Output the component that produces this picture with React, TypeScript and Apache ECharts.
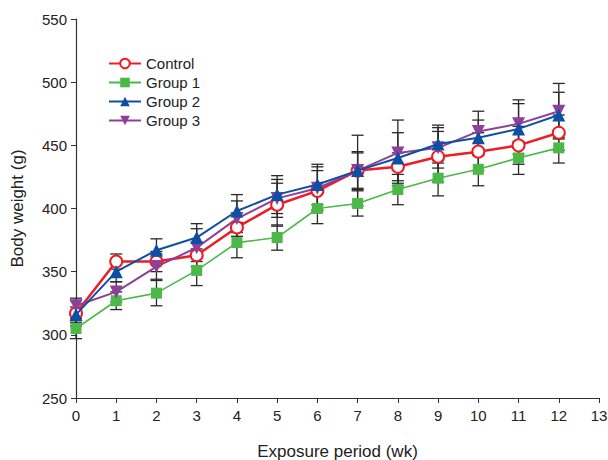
import React, { useEffect, useRef } from "react";
import * as echarts from "echarts";

const weeks = [0, 1, 2, 3, 4, 5, 6, 7, 8, 9, 10, 11, 12];
const seriesNames = ["Control", "Group 1", "Group 2", "Group 3"];
const control = [317, 358, 358, 363, 385, 403, 414, 430, 433, 441, 445, 450, 460];
const group1 = [305, 327, 333, 351, 373, 377, 400, 404, 415, 424, 431, 440, 448];
const group2 = [316, 350, 367, 377, 398, 411, 419, 430, 440, 451, 456, 463, 474];
const group3 = [323, 334, 354, 369, 392, 408, 416, 430, 444, 448, 461, 467, 477];
const controlSd = [10, 6, 8, 5, 4, 17, 16, 28, 11, 20, 15, 15, 14];
const group1Sd = [8, 7, 10, 12, 12, 10, 12, 10, 12, 14, 13, 13, 12];
const group2Sd = [6, 8, 9, 11, 13, 15, 16, 15, 20, 15, 14, 20, 18];
const group3Sd = [6, 8, 10, 15, 14, 15, 17, 14, 26, 16, 16, 19, 22];
const yTicks = [250, 300, 350, 400, 450, 500, 550];
const xMax = 13;

const FONT = "'Liberation Sans', Arial, sans-serif";

function errorSeries(values: number[], sd: number[]) {
  return {
    type: "custom",
    silent: true,
    z: 1,
    data: weeks.map((w, i) => [w, values[i] - sd[i], values[i] + sd[i]]),
    renderItem: (params: any, api: any) => {
      const x = api.value(0);
      const lo = api.coord([x, api.value(1)]);
      const hi = api.coord([x, api.value(2)]);
      const hw = 6;
      const style = { stroke: "#2a2a2a", lineWidth: 1.3 };
      return {
        type: "group",
        children: [
          { type: "line", shape: { x1: lo[0], y1: lo[1], x2: hi[0], y2: hi[1] }, style },
          { type: "line", shape: { x1: lo[0] - hw, y1: lo[1], x2: lo[0] + hw, y2: lo[1] }, style },
          { type: "line", shape: { x1: hi[0] - hw, y1: hi[1], x2: hi[0] + hw, y2: hi[1] }, style },
        ],
      };
    },
  };
}

export default function App() {
  const ref = useRef<HTMLDivElement>(null);
  useEffect(() => {
    if (!ref.current) return;
    const chart = echarts.init(ref.current, undefined, { renderer: "svg" });
    const mk = (vals: number[]) => weeks.map((w, i) => [w, vals[i]]);
    chart.setOption({
      animation: false,
      backgroundColor: "#ffffff",
      textStyle: { fontFamily: FONT },
      grid: { left: 76, right: 9, top: 19, bottom: 62, containLabel: false, outerBoundsMode: "none" },
      legend: {
        data: seriesNames,
        orient: "vertical",
        left: 103,
        top: 51,
        itemWidth: 32,
        itemHeight: 12,
        itemGap: 4,
        textStyle: { fontSize: 15, color: "#222", fontFamily: FONT },
      },
      xAxis: {
        type: "value",
        min: 0,
        max: xMax,
        interval: 1,
        name: "Exposure period (wk)",
        nameLocation: "middle",
        nameGap: 45,
        nameTextStyle: { fontSize: 17, color: "#222" },
        axisLine: { lineStyle: { color: "#333", width: 1.2 } },
        axisTick: { lineStyle: { color: "#333" }, length: 5 },
        axisLabel: { fontSize: 15, color: "#222", margin: 10 },
        splitLine: { show: false },
      },
      yAxis: {
        type: "value",
        min: yTicks[0],
        max: yTicks[yTicks.length - 1],
        interval: 50,
        name: "Body weight (g)",
        nameLocation: "middle",
        nameGap: 50,
        nameTextStyle: { fontSize: 17, color: "#222" },
        axisLine: { show: true, lineStyle: { color: "#333", width: 1.2 } },
        axisTick: { show: true, lineStyle: { color: "#333" }, length: 5 },
        axisLabel: { fontSize: 15, color: "#222", margin: 9 },
        splitLine: { show: false },
      },
      series: [
        errorSeries(group1, group1Sd),
        errorSeries(control, controlSd),
        errorSeries(group2, group2Sd),
        errorSeries(group3, group3Sd),
        {
          name: "Control",
          type: "line",
          z: 5,
          data: mk(control),
          symbol: "circle",
          symbolSize: 12,
          lineStyle: { color: "#ee1c25", width: 2.5 },
          itemStyle: { color: "#ffffff", borderColor: "#ee1c25", borderWidth: 2 },
          color: "#ee1c25",
        },
        {
          name: "Group 1",
          type: "line",
          z: 4,
          data: mk(group1),
          symbol: "rect",
          symbolSize: 11,
          lineStyle: { color: "#4cb848", width: 1.6 },
          itemStyle: { color: "#4cb848" },
          color: "#4cb848",
        },
        {
          name: "Group 2",
          type: "line",
          z: 6,
          data: mk(group2),
          symbol: "triangle",
          symbolSize: 13,
          lineStyle: { color: "#0d4fa3", width: 2 },
          itemStyle: { color: "#0d4fa3" },
          color: "#0d4fa3",
        },
        {
          name: "Group 3",
          type: "line",
          z: 5,
          data: mk(group3),
          symbol: "triangle",
          symbolRotate: 180,
          symbolSize: 13,
          lineStyle: { color: "#8e3f9a", width: 2 },
          itemStyle: { color: "#8e3f9a" },
          color: "#8e3f9a",
        },
      ],
    });
    return () => chart.dispose();
  }, []);
  return (
    <div
      ref={ref}
      style={{ position: "fixed", left: 0, top: 0, width: 608, height: 460, background: "#fff" }}
    />
  );
}
